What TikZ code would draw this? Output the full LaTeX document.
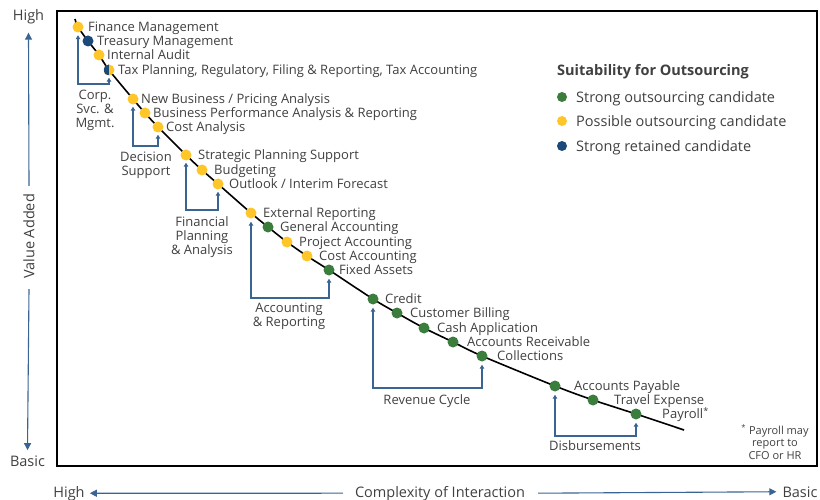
\documentclass[tikz,border=0pt]{standalone}
\usepackage{fontspec}
\setmainfont{Open Sans}
\usetikzlibrary{arrows.meta,backgrounds}
\definecolor{okgreen}{HTML}{3A7D3C}
\definecolor{okyellow}{HTML}{FFC629}
\definecolor{oknavy}{HTML}{1B4A7A}
\definecolor{okline}{HTML}{3A6593}
\definecolor{oktext}{HTML}{404040}

\begin{document}
\begin{tikzpicture}[x=1pt,y=-1pt,
  every node/.style={text=oktext,font=\fontsize{13}{14}\selectfont},
  dot/.style={circle,inner sep=0pt,minimum size=11pt,fill=#1},
  grn/.style={dot=okgreen},
  ylw/.style={dot=okyellow},
  nvy/.style={dot=oknavy},
  half/.style={dot=okyellow,path picture={\fill[oknavy] (path picture bounding box.north west) rectangle (path picture bounding box.south);}},
  lbl/.style={anchor=base west,inner sep=0pt},
  grp/.style={align=center,anchor=north,inner sep=0pt},
  brk/.style={draw=okline,line width=1.1pt,{Triangle[length=4pt,width=4.5pt]}-{Triangle[length=4pt,width=4.5pt]}},
  ax/.style={draw=okline,line width=1.1pt,-{Triangle[length=7pt,width=7pt]}},
  axlbl/.style={font=\fontsize{14.5}{16}\selectfont,inner sep=0pt}]
\useasboundingbox (0,0) rectangle (820,500);
\draw[line width=2.2pt] (57,11) rectangle (817,466);

\foreach \n/\x/\y/\s/\lx/\t in {
  fin/78/27/ylw/88/Finance Management,
  trs/88/41/nvy/97/Treasury Management,
  aud/99/55/ylw/107/Internal Audit,
  tax/109/70/half/118/{Tax Planning, Regulatory, Filing \& Reporting, Tax Accounting},
  nbp/133/99/ylw/141/{New Business / Pricing Analysis},
  bpa/145/113/ylw/153/Business Performance Analysis \& Reporting,
  cst/158/127/ylw/166/Cost Analysis,
  spl/186/155/ylw/198/Strategic Planning Support,
  bud/202/170/ylw/214/Budgeting,
  olk/218/184/ylw/229/{Outlook / Interim Forecast},
  ext/251/213/ylw/263/External Reporting,
  gen/268/227/grn/280/General Accounting,
  prj/287/242/ylw/299/Project Accounting,
  cac/307/256/ylw/319/Cost Accounting,
  fxa/329/270/grn/339/Fixed Assets,
  cre/373/299/grn/385/Credit,
  bil/397/313/grn/410/Customer Billing,
  cap/424/328/grn/437/Cash Application,
  acr/453/342/grn/467/Accounts Receivable,
  col/482/356/grn/497/Collections,
  apy/555/386/grn/574/Accounts Payable,
  trv/593/400/grn/614/Travel Expense,
  pay/636/414/grn/662/Payroll\textsuperscript{*}}
{
  \node[\s] (\n) at (\x,\y) {};
  \node[lbl] (\n-t) at (\lx,\y+4.6) {\t};
}

\coordinate (c0) at (75,19);
\coordinate (c1) at (684,430);
\begin{scope}[on background layer]
\draw[line width=1.6pt] plot[smooth,tension=0.5] coordinates {(c0) (fin) (trs) (aud) (tax) (nbp) (bpa) (cst) (spl) (bud) (olk) (ext) (gen) (prj) (cac) (fxa) (cre) (bil) (cap) (acr) (col) (apy) (trv) (pay) (c1)};
\end{scope}

\node[grp] (corp) at (95,90) {Corp.\\Svc. \&\\Mgmt.};
\node[grp] (dec) at (146,152) {Decision\\Support};
\node[grp] (fpa) at (202,216) {Financial\\Planning\\\& Analysis};
\node[grp] (acc) at (289,303) {Accounting\\\& Reporting};
\node[grp] (rev) at (427,394) {Revenue Cycle};
\node[grp] (dis) at (595,440) {Disbursements};

\draw[brk] ([yshift=-2.5pt]fin.south) |- ([yshift=6pt]corp.north) -| ([yshift=-2pt]tax.south);
\draw[brk] ([yshift=-2pt]nbp.south) |- ([yshift=6pt]dec.north) -| ([yshift=-2pt]cst.south);
\draw[brk] ([yshift=-2pt]spl.south) |- ([yshift=6pt]fpa.north) -| ([yshift=-2pt]olk.south);
\draw[brk] ([yshift=-3pt]ext.south) |- ([yshift=5pt]acc.north) -| ([yshift=-3pt]fxa.south);
\draw[brk] ([yshift=-3pt]cre.south) |- ([yshift=6pt]rev.north) -| ([yshift=-3pt]col.south);
\draw[brk] ([yshift=-3pt]apy.south) |- ([yshift=4pt]dis.north) -| ([yshift=-3pt]pay.south);

\node[align=center,anchor=north,inner sep=0pt,font=\fontsize{11}{12.5}\selectfont] (note) at (775,424) {\textsuperscript{*} Payroll may\\report to\\CFO or HR};

\node[lbl,font=\bfseries\fontsize{14.5}{16}\selectfont] (lgd) at (557,76) {Suitability for Outsourcing};
\foreach \n/\s/\y/\t in {lg1/grn/97/Strong outsourcing candidate, lg2/ylw/121/Possible outsourcing candidate, lg3/nvy/146/Strong retained candidate}
{
  \node[\s,minimum size=10pt] (\n) at (562,\y) {};
  \node[lbl,font=\fontsize{14.5}{16}\selectfont] (\n-t) at (576,\y+5.5) {\t};
}

\node[axlbl,anchor=base] (vhi) at (28.5,21) {High};
\node[axlbl,rotate=90] (vadd) at (29,236.5) {Value Added};
\node[axlbl,anchor=base] (vlo) at (27.5,466) {Basic};
\draw[ax] ([yshift=8pt]vadd.east) -- ([yshift=-8pt]vhi.south);
\draw[ax] ([yshift=-10pt]vadd.west) -- ([yshift=5pt]vlo.north);
\node[axlbl,anchor=base] (hhi) at (69,497) {High};
\node[axlbl,anchor=base] (hcx) at (440,497) {Complexity of Interaction};
\node[axlbl,anchor=base] (hlo) at (800,497) {Basic};
\draw[ax] ([xshift=-12pt]hcx.west) -- ([xshift=5pt]hhi.east);
\draw[ax] ([xshift=13pt]hcx.east) -- ([xshift=-6pt]hlo.west);
\end{tikzpicture}
\end{document}
